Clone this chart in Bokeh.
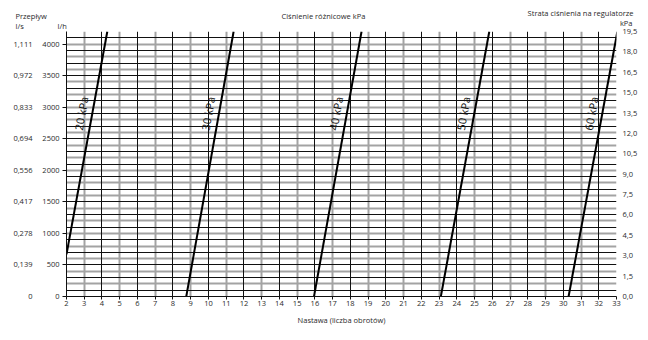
from bokeh.plotting import figure
from bokeh.models import (Range1d, LinearAxis, FixedTicker, Grid, Title,
                          CustomJSTickFormatter, ColumnDataSource)
from bokeh.core.properties import value
from bokeh.embed import file_html
from bokeh.resources import INLINE

# ---------------- data ----------------
settings = list(range(2, 34))                       # Nastawa (liczba obrotów)
flow_lh_ticks = [0, 500, 1000, 1500, 2000, 2500, 3000, 3500, 4000]
flow_ls_labels = ["0", "0,139", "0,278", "0,417", "0,556", "0,694", "0,833", "0,972", "1,111"]
loss_kpa_ticks = [0.0, 1.5, 3.0, 4.5, 6.0, 7.5, 9.0, 10.5, 12.0, 13.5, 15.0, 16.5, 18.0, 19.5]
flow_grid_black = [100, 300, 500, 700, 900, 1100, 1300, 1500, 1700, 1900, 2100,
                   2300, 2500, 2700, 2900, 3100, 3300, 3500, 3700, 3900, 4100]
flow_grid_gray = [0, 200, 400, 600, 800, 1000, 1200, 1400, 1600, 1800, 2000,
                  2200, 2400, 2600, 2800, 3000, 3200, 3400, 3600, 3800, 4000, 4200]
setting_grid_black = [2, 4, 6, 8, 10, 12, 14, 16, 18, 20, 22, 24, 26, 28, 30, 32]
setting_grid_gray = [3, 5, 7, 9, 11, 13, 15, 17, 19, 21, 23, 25, 27, 29, 31, 33]

dp_labels = ["20 kPa", "30 kPa", "40 kPa", "50 kPa", "60 kPa"]
line_x_start = [2.0, 8.75, 15.95, 23.1, 30.3]
line_flow_start = [670, 0, 0, 0, 0]
line_x_end = [4.3, 11.42, 18.63, 25.83, 33.05]
line_flow_end = [4200, 4200, 4200, 4200, 4200]
label_flow = 2900
label_shift = -0.62

FONT = "Open Sans"
TXT = "#2a2a2a"
FS = "7.5px"

p = figure(width=648, height=340, x_range=Range1d(2, 33), y_range=Range1d(0, 4200),
           output_backend="svg", toolbar_location=None,
           min_border_left=66, min_border_right=32, min_border_top=31, min_border_bottom=44)
p.outline_line_color = None
p.title.visible = False

# grids
p.xgrid.ticker = FixedTicker(ticks=setting_grid_gray)
p.xgrid.grid_line_color = "#a3a3a3"
p.xgrid.grid_line_width = 2
p.ygrid.ticker = FixedTicker(ticks=flow_grid_gray)
p.ygrid.grid_line_color = "#a3a3a3"
p.ygrid.grid_line_width = 2
p.add_layout(Grid(dimension=0, ticker=FixedTicker(ticks=setting_grid_black),
                  grid_line_color="#111111", grid_line_width=1))
p.add_layout(Grid(dimension=1, ticker=FixedTicker(ticks=flow_grid_black),
                  grid_line_color="#111111", grid_line_width=1))

# x axis
xa = p.xaxis[0]
xa.ticker = FixedTicker(ticks=settings)
xa.axis_label = "Nastawa (liczba obrotów)"
xa.axis_label_text_font = FONT
xa.axis_label_text_font_size = FS
xa.axis_label_text_font_style = "normal"
xa.axis_label_text_color = TXT
xa.axis_label_standoff = 6
xa.major_label_text_font = FONT
xa.major_label_text_font_size = FS
xa.major_label_text_color = TXT
xa.major_label_standoff = 1
xa.major_tick_out = 3
xa.major_tick_in = 0
xa.minor_tick_out = 0
xa.minor_tick_in = 0
xa.axis_line_color = "#111111"
xa.major_tick_line_color = "#111111"

# left l/h axis
ya = p.yaxis[0]
ya.ticker = FixedTicker(ticks=flow_lh_ticks)
ya.major_label_text_font = FONT
ya.major_label_text_font_size = FS
ya.major_label_text_color = TXT
ya.major_label_standoff = 3
ya.major_tick_out = 4
ya.major_tick_in = 0
ya.minor_tick_out = 0
ya.minor_tick_in = 0
ya.axis_line_color = "#111111"
ya.major_tick_line_color = "#111111"

# left l/s axis
ls_axis = LinearAxis(ticker=FixedTicker(ticks=flow_lh_ticks),
                     major_label_overrides={t: l for t, l in zip(flow_lh_ticks, flow_ls_labels)},
                     major_tick_out=0, major_tick_in=0, minor_tick_out=0, minor_tick_in=0,
                     axis_line_color=None, major_label_standoff=7,
                     major_label_text_font=FONT, major_label_text_font_size=FS,
                     major_label_text_color=TXT)
p.add_layout(ls_axis, "left")

# right kPa axis
p.extra_y_ranges = {"kpa": Range1d(0, 19.5)}
r_axis = LinearAxis(y_range_name="kpa", ticker=FixedTicker(ticks=loss_kpa_ticks),
                    formatter=CustomJSTickFormatter(code="return tick.toFixed(1).replace('.', ',')"),
                    major_tick_out=0, major_tick_in=0, minor_tick_out=0, minor_tick_in=0,
                    axis_line_color=None, major_label_standoff=6,
                    major_label_text_font=FONT, major_label_text_font_size=FS,
                    major_label_text_color=TXT)
p.add_layout(r_axis, "right")

# pressure lines
src = ColumnDataSource(dict(x0=line_x_start, y0=line_flow_start, x1=line_x_end, y1=line_flow_end))
p.segment("x0", "y0", "x1", "y1", source=src, line_color="#000000", line_width=2)

lx = [x0 + (x1 - x0) * (label_flow - y0) / (y1 - y0) + label_shift
      for x0, y0, x1, y1 in zip(line_x_start, line_flow_start, line_x_end, line_flow_end)]
lsrc = ColumnDataSource(dict(x=lx, y=[label_flow] * len(lx), t=dp_labels))
p.text("x", "y", text="t", source=lsrc, angle=80, angle_units="deg",
       text_align="center", text_baseline="middle",
       text_font=value(FONT), text_font_size="11px", text_color="#111111")

# header texts: stacked titles in the top panel (first added = nearest the frame)
def spacer(h):
    p.add_layout(Title(text=" ", text_font_size="2px", standoff=h - 4.5), "above")

def head(txt, align, offset):
    p.add_layout(Title(text=txt, align=align, offset=offset, vertical_align="middle",
                       standoff=-60, text_font=FONT, text_font_size=FS,
                       text_font_style="normal", text_color=TXT), "above")

spacer(6)
head("l/s", "left", -51)
head("l/h", "left", -9)
spacer(3)
head("kPa", "right", -16)
spacer(7)
head("Ciśnienie różnicowe kPa", "left", 215)
head("Przepływ", "left", -51)
spacer(3)
head("Strata ciśnienia na regulatorze", "right", -17)
spacer(12)

open("out.html", "w").write(file_html(p, INLINE))
